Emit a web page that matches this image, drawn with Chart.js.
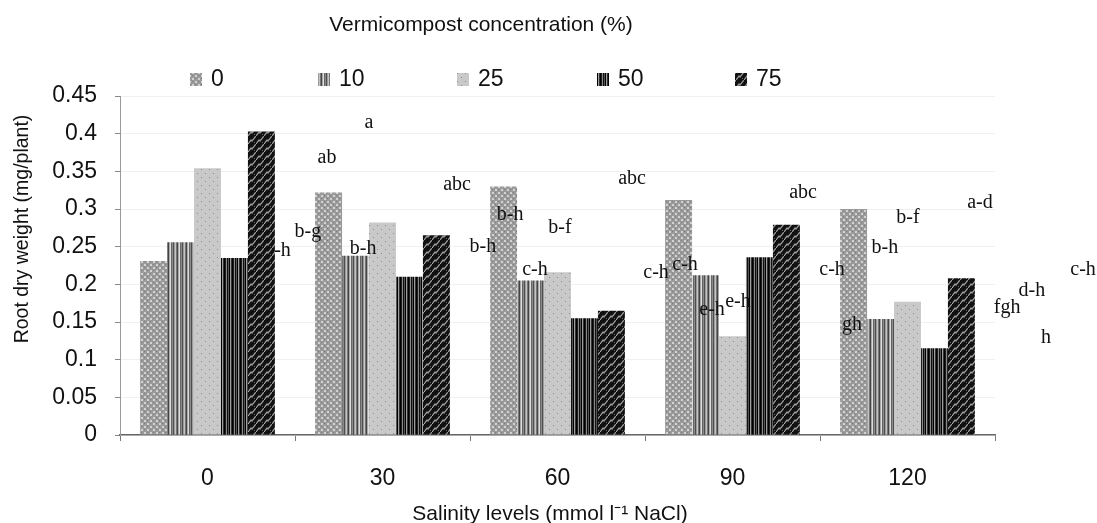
<!DOCTYPE html>
<html>
<head>
<meta charset="utf-8">
<script src="https://cdn.jsdelivr.net/npm/chart.js@4.4.1/dist/chart.umd.min.js"></script>
<style>
  html, body { margin: 0; padding: 0; background: #fff; }
  #wrap { width: 1097px; height: 523px; }
</style>
</head>
<body>
<div id="wrap"><canvas id="chart" width="1097" height="523"></canvas></div>
<script>
const salinity = ["0", "30", "60", "90", "120"];
const vermi = ["0", "10", "25", "50", "75"];

const rdw0 = [0.231, 0.322, 0.330, 0.312, 0.300];
const rdw10 = [0.256, 0.238, 0.205, 0.212, 0.154];
const rdw25 = [0.354, 0.282, 0.216, 0.131, 0.177];
const rdw50 = [0.235, 0.210, 0.155, 0.236, 0.115];
const rdw75 = [0.403, 0.265, 0.165, 0.279, 0.208];

// significance letters, as they sit in the original figure (category index, value)
const letterText = ["a", "ab", "b-g", "c-h", "b-h", "abc", "b-h", "b-h", "b-f", "c-h",
  "abc", "c-h", "c-h", "e-h", "e-h", "abc", "c-h", "b-h", "b-f", "gh",
  "a-d", "c-h", "d-h", "fgh", "h"];
const letterCat = [0.923, 0.683, 0.574, 0.403, 0.889, 1.426, 1.574, 1.729, 2.014, 1.871,
  2.426, 2.563, 2.729, 2.883, 3.031, 3.403, 3.569, 3.871, 4.003, 3.683,
  4.414, 5.003, 4.711, 4.569, 4.791];
const letterVal = [0.414, 0.368, 0.270, 0.244, 0.247, 0.332, 0.250, 0.292, 0.275, 0.220,
  0.340, 0.216, 0.226, 0.166, 0.177, 0.321, 0.220, 0.248, 0.288, 0.146,
  0.308, 0.219, 0.191, 0.169, 0.129];
// the one label that is partly covered by a bar in the source
const letterUnder = ["c-h@0"];

const SANS = "'Liberation Sans', Arial, sans-serif";
const SERIF = "'Liberation Serif', 'Times New Roman', serif";

function tile(w, h, draw) {
  const c = document.createElement("canvas");
  c.width = w; c.height = h;
  draw(c.getContext("2d"));
  return c.getContext("2d").createPattern(c, "repeat");
}

function stripes(cols) {
  return tile(cols.length, 4, (g) => {
    cols.forEach((col, i) => { g.fillStyle = col; g.fillRect(i, 0, 1, 4); });
  });
}

const patterns = [
  // checker weave, mid grey
  tile(6, 6, (g) => {
    g.fillStyle = "#9a9a9a"; g.fillRect(0, 0, 6, 6);
    g.fillStyle = "#d2d2d2";
    g.fillRect(0, 0, 2, 2); g.fillRect(3, 3, 2, 2);
    g.fillStyle = "#7a7a7a";
    g.fillRect(3, 0, 1, 1); g.fillRect(0, 3, 1, 1);
  }),
  stripes(["#666", "#8a8a8a", "#4e4e4e", "#9c9c9c", "#c4c4c4", "#777", "#444", "#a8a8a8", "#dcdcdc"]),
  // light grey with dots
  tile(8, 8, (g) => {
    g.fillStyle = "#c9c9c9"; g.fillRect(0, 0, 8, 8);
    g.fillStyle = "#8c8c8c";
    g.fillRect(1, 1, 1, 1); g.fillRect(5, 5, 1, 1);
  }),
  stripes(["#000", "#1e1e1e", "#8a8a8a", "#111", "#555", "#000", "#a0a0a0", "#333"]),
  // black with grey diagonal squiggles
  tile(8, 8, (g) => {
    g.fillStyle = "#111"; g.fillRect(0, 0, 8, 8);
    g.strokeStyle = "#9a9a9a"; g.lineWidth = 1.3;
    g.beginPath();
    g.moveTo(0, 8); g.lineTo(3, 4); g.lineTo(4, 5); g.lineTo(8, 0);
    g.stroke();
    g.fillStyle = "#666"; g.fillRect(6, 6, 1, 1);
  }),
];

const series = [rdw0, rdw10, rdw25, rdw50, rdw75];

const legendMarkX = [190, 318, 457, 597, 735];

function isUnder(i) {
  return letterUnder.includes(letterText[i] + "@" + Math.floor(letterCat[i]));
}

function drawLetters(chart, under) {
  const { ctx, scales: { x, y } } = chart;
  ctx.save();
  ctx.fillStyle = "#111";
  ctx.font = "20px " + SERIF;
  ctx.textAlign = "center";
  ctx.textBaseline = "middle";
  letterText.forEach((t, i) => {
    if (isUnder(i) !== under) return;
    ctx.fillText(t, x.getPixelForValue(letterCat[i]), y.getPixelForValue(letterVal[i]));
  });
  ctx.restore();
}

const annotations = {
  id: "annotations",
  beforeDatasetsDraw(chart) { drawLetters(chart, true); },
  afterDatasetsDraw(chart) { drawLetters(chart, false); },
  afterDraw(chart) {
    const { ctx } = chart;
    ctx.save();
    ctx.fillStyle = "#111";
    ctx.textBaseline = "middle";
    // top title
    ctx.font = "21px " + SANS;
    ctx.textAlign = "center";
    ctx.fillText("Vermicompost concentration (%)", 481, 25);
    // legend
    ctx.font = "23px " + SANS;
    ctx.textAlign = "left";
    vermi.forEach((v, i) => {
      ctx.fillStyle = patterns[i];
      ctx.fillRect(legendMarkX[i], 73, 12, 13);
      ctx.fillStyle = "#111";
      ctx.fillText(v, legendMarkX[i] + 21, 80);
    });
    // x title
    ctx.font = "21px " + SANS;
    ctx.textAlign = "center";
    ctx.fillText("Salinity levels (mmol l\u207B\u00B9 NaCl)", 550, 514);
    // y title
    ctx.translate(23, 229);
    ctx.rotate(-Math.PI / 2);
    ctx.font = "19.5px " + SANS;
    ctx.fillText("Root dry weight (mg/plant)", 0, 0);
    ctx.restore();
  },
};

new Chart(document.getElementById("chart"), {
  type: "bar",
  data: {
    labels: salinity,
    datasets: series.map((vals, i) => ({
      label: vermi[i],
      data: vals,
      backgroundColor: patterns[i],
      borderWidth: 0,
      barPercentage: 1,
      categoryPercentage: 0.77,
    })),
  },
  options: {
    responsive: false,
    animation: false,
    layout: { padding: { top: 96, right: 102, left: 0, bottom: 0 } },
    plugins: {
      legend: { display: false },
      title: { display: false },
      tooltip: { enabled: false },
    },
    scales: {
      x: {
        afterFit: (s) => { s.height = 88; },
        grid: { display: true, drawOnChartArea: false, tickColor: "#777", tickLength: 6, offset: true },
        border: { color: "#666", width: 1.5 },
        ticks: { color: "#111", font: { family: SANS, size: 23 }, padding: 24 },
      },
      y: {
        min: 0,
        max: 0.45,
        afterFit: (s) => { s.width = 120; },
        grid: { color: "#f0f0f0", tickColor: "#888", tickLength: 5 },
        border: { color: "#999", width: 1 },
        ticks: {
          stepSize: 0.05,
          color: "#111",
          padding: 18,
          font: { family: SANS, size: 23 },
          callback: (v) => String(+v.toFixed(2)),
        },
      },
    },
  },
  plugins: [annotations],
});
</script>
</body>
</html>
